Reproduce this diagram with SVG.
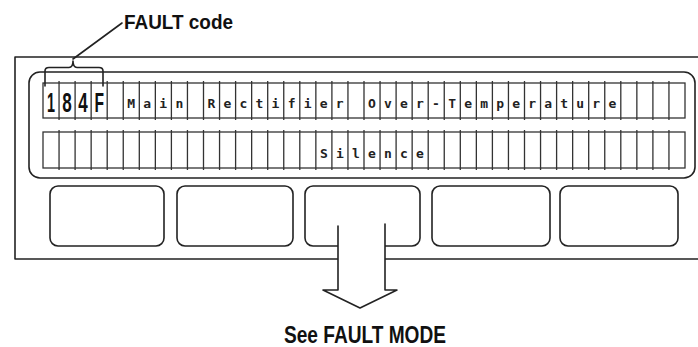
<svg xmlns="http://www.w3.org/2000/svg" width="698" height="347" viewBox="0 0 698 347">
<style>
.ln{fill:none;stroke:#222;stroke-width:1.6;stroke-linecap:round;stroke-linejoin:round}
.thin{fill:none;stroke:#333;stroke-width:1.3}
.lbl{font-family:"Liberation Sans",Arial,sans-serif;font-weight:bold;fill:#111}
.ch{font-family:"DejaVu Sans Mono",monospace;font-size:13px;font-weight:bold;fill:#222;letter-spacing:8.2px}
.big{font-family:"Liberation Sans",Arial,sans-serif;font-weight:bold;font-size:28px;fill:#111;text-anchor:middle}
</style>
<rect width="698" height="347" fill="#fff"/>
<g id="frame">
<path class="ln" d="M698,57 H15 V259 H698"/>
</g>
<g id="display">
<rect class="ln" x="29" y="72" width="666" height="106" rx="11"/>
<g id="row1">
<rect class="thin" x="43" y="83" width="642" height="35"/>
<path class="thin" d="M59.05,81V120M75.1,81V120M91.15,81V120M107.2,81V120M123.25,81V120M139.3,81V120M155.35,81V120M171.4,81V120M187.45,81V120M203.5,81V120M219.55,81V120M235.6,81V120M251.65,81V120M267.7,81V120M283.75,81V120M299.8,81V120M315.85,81V120M331.9,81V120M347.95,81V120M364,81V120M380.05,81V120M396.1,81V120M412.15,81V120M428.2,81V120M444.25,81V120M460.3,81V120M476.35,81V120M492.4,81V120M508.45,81V120M524.5,81V120M540.55,81V120M556.6,81V120M572.65,81V120M588.7,81V120M604.75,81V120M620.8,81V120M636.85,81V120M652.9,81V120M668.95,81V120"/>
<text class="big" x="51" y="112" textLength="8" lengthAdjust="spacingAndGlyphs">1</text>
<text class="big" x="67.1" y="112" textLength="9.5" lengthAdjust="spacingAndGlyphs">8</text>
<text class="big" x="83.1" y="112" textLength="9.5" lengthAdjust="spacingAndGlyphs">4</text>
<text class="big" x="99.2" y="112" textLength="9.5" lengthAdjust="spacingAndGlyphs">F</text>
<text class="ch" x="127.3" y="108">Main</text>
<text class="ch" x="207.5" y="108">Rectifier</text>
<text class="ch" x="368" y="108">Over-Temperature</text>
</g>
<g id="row2">
<rect class="thin" x="43" y="132" width="642" height="36"/>
<path class="thin" d="M59.05,130V170M75.1,130V170M91.15,130V170M107.2,130V170M123.25,130V170M139.3,130V170M155.35,130V170M171.4,130V170M187.45,130V170M203.5,130V170M219.55,130V170M235.6,130V170M251.65,130V170M267.7,130V170M283.75,130V170M299.8,130V170M315.85,130V170M331.9,130V170M347.95,130V170M364,130V170M380.05,130V170M396.1,130V170M412.15,130V170M428.2,130V170M444.25,130V170M460.3,130V170M476.35,130V170M492.4,130V170M508.45,130V170M524.5,130V170M540.55,130V170M556.6,130V170M572.65,130V170M588.7,130V170M604.75,130V170M620.8,130V170M636.85,130V170M652.9,130V170M668.95,130V170"/>
<text class="ch" x="319.9" y="158">Silence</text>
</g>
</g>
<g id="buttons">
<rect id="btn1" class="ln" x="50" y="186" width="114" height="60" rx="8"/>
<rect id="btn2" class="ln" x="177" y="186" width="116" height="60" rx="8"/>
<rect id="btn3" class="ln" x="305" y="186" width="115" height="60" rx="8"/>
<rect id="btn4" class="ln" x="432" y="186" width="118" height="60" rx="8"/>
<rect id="btn5" class="ln" x="560" y="186" width="118" height="60" rx="8"/>
</g>
<g id="connectors">
<path class="ln" d="M122,23 L73,59"/>
<path class="ln" d="M45,86 V71 Q45,67.5 49,67.5 H69 Q73,67.5 73,61 Q73,67.5 77,67.5 H99 Q103,67.5 103,71 V86"/>
<polygon points="338,225 385,225 385,290 397,290 360,308 323,290 338,290" fill="#fff"/>
<path class="ln" d="M338,226 V290 H323 L360,308 L397,290 H385 V224" stroke-width="2.2"/>
</g>
<g id="labels">
<text class="lbl" x="124" y="29" font-size="20" textLength="109" lengthAdjust="spacingAndGlyphs">FAULT code</text>
<text class="lbl" x="284" y="343" font-size="24" textLength="162" lengthAdjust="spacingAndGlyphs">See FAULT MODE</text>
</g>
</svg>
